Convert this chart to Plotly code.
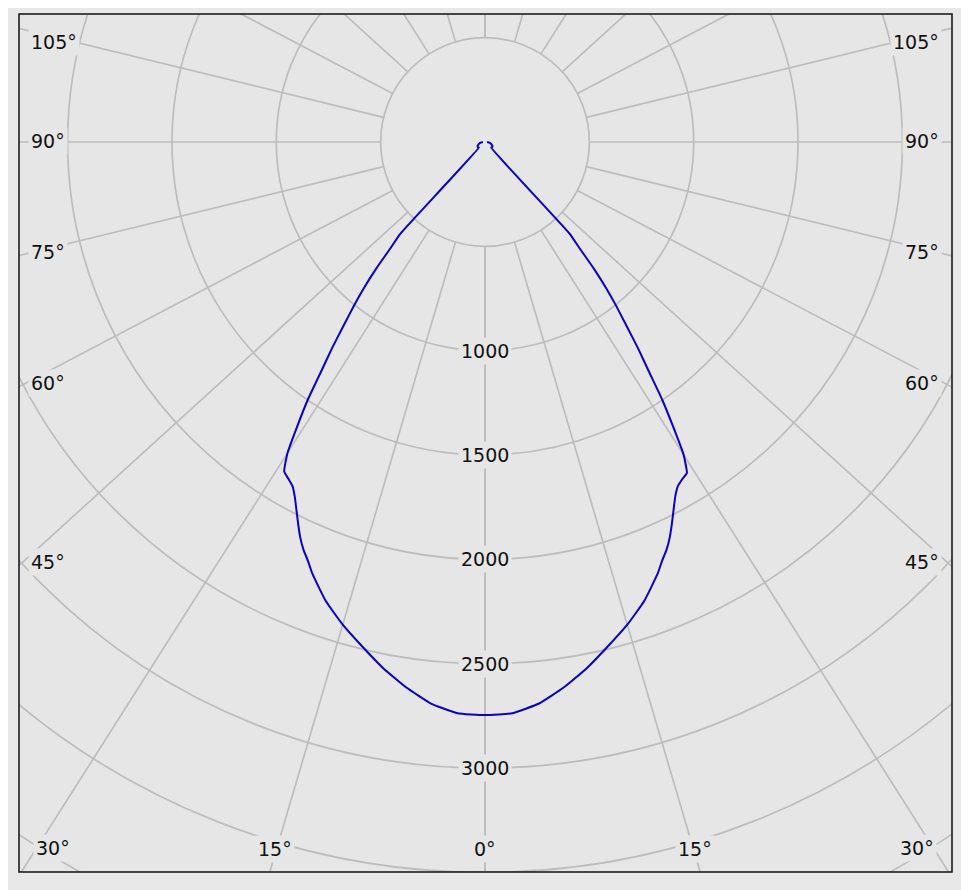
import numpy as np
import plotly.graph_objects as go

# ---------------- data ----------------
gamma_deg = [0, 2.5, 5, 7.5, 10, 12.5, 15, 17.5, 20, 21, 22, 23, 24, 25, 26, 27, 28, 29, 30,
             31, 32, 33, 34, 35, 36, 37, 38, 39, 40, 45, 50, 55, 60, 65, 70, 75, 80, 85, 90]
intensity_c0 = [2746, 2740, 2703, 2640, 2567, 2487, 2411, 2328, 2227, 2180, 2140, 2092, 2036, 1980,
                1928, 1888, 1868, 1848, 1765, 1630, 1500, 1350, 1230, 1110, 1010, 910, 800, 680, 600,
                40, 42, 42, 40, 36, 32, 27, 21, 15, 10]
intensity_c180 = [2746, 2740, 2703, 2640, 2567, 2487, 2411, 2328, 2227, 2180, 2140, 2092, 2036, 1980,
                  1928, 1890, 1872, 1858, 1775, 1635, 1500, 1350, 1230, 1110, 1010, 910, 800, 680, 600,
                  40, 42, 42, 40, 36, 32, 27, 21, 15, 10]

circle_radii = [500, 1000, 1500, 2000, 2500, 3000, 3500, 4000, 4500]
radial_tick_values = [1000, 1500, 2000, 2500, 3000]
ray_angles = [0, 15, 30, 45, 60, 75, 90, 105, 120, 135, 150, 165, 180]
angle_label_text = ["105°", "90°", "75°", "60°", "45°", "30°", "15°", "0°"]

# ---------------- styles / layout constants (screen pixels) ----------------
PAGE_OFFSET = 8              # browser body margin
W, H = 969 - PAGE_OFFSET, 890 - PAGE_OFFSET
PLOT_L, PLOT_R, PLOT_T, PLOT_B = 19, 952, 14, 872
CX, CY = 485, 142            # pole position in screen pixels
SCALE = 0.2087               # px per cd
RAY_STRETCH = 1.1            # angular stretch of the radial grid
BG = "#e6e6e6"
GRID = "#bdbdbd"
CURVE = "#0a00c8"
FONT = dict(family="DejaVu Sans", size=19, color="#111111")

# label anchor pixels (left side; right side mirrored)
angle_label_px = [(54, 42), (48, 141), (48, 252), (48, 383), (48, 562), (53, 848), (275, 849), (485, 849)]

x_range = [(PLOT_L - CX) / SCALE, (PLOT_R - CX) / SCALE]
y_range = [(CY - PLOT_B) / SCALE, (CY - PLOT_T) / SCALE]


def to_xy(theta_deg, r, side):
    th = np.radians(np.asarray(theta_deg, dtype=float))
    thp = np.arctan2(RAY_STRETCH * np.sin(th), np.cos(th))
    r = np.asarray(r, dtype=float)
    return side * r * np.sin(thp), -r * np.cos(thp)


fig = go.Figure()

# radial grid rays
rx, ry = [], []
for side in (-1, 1):
    for a in ray_angles:
        x, y = to_xy([a, a], [circle_radii[0], 8000], side)
        rx += list(x) + [None]
        ry += list(y) + [None]
fig.add_trace(go.Scatter(x=rx, y=ry, mode="lines", line=dict(color=GRID, width=1.7),
                         hoverinfo="skip", showlegend=False))

# intensity curve: left half (C0) from 90 down to 0, then right half (C180) from 0 to 90
xl, yl = to_xy(gamma_deg[::-1], intensity_c0[::-1], -1)
xr, yr = to_xy(gamma_deg, intensity_c180, 1)
fig.add_trace(go.Scatter(x=np.concatenate([xl, xr[1:]]), y=np.concatenate([yl, yr[1:]]),
                         mode="lines", line=dict(color=CURVE, width=2, shape="spline", smoothing=0.4),
                         showlegend=False))

shapes = []
for R in circle_radii:
    shapes.append(dict(type="circle", xref="x", yref="y", x0=-R, x1=R, y0=-R, y1=R,
                       line=dict(color=GRID, width=1.7), layer="below"))
shapes.append(dict(type="rect", xref="paper", yref="paper", x0=0, x1=1, y0=0, y1=1,
                   line=dict(color="#111111", width=1.5), layer="above"))

annotations = []
for v in radial_tick_values:
    annotations.append(dict(x=0, y=-v, xref="x", yref="y", text=str(v), showarrow=False,
                            font=FONT, bgcolor=BG, borderpad=2, xanchor="center", yanchor="middle"))
for txt, (px, py) in zip(angle_label_text, angle_label_px):
    for pxx in sorted({px, 2 * CX - px}):
        annotations.append(dict(x=(pxx - CX) / SCALE, y=(CY - py) / SCALE, xref="x", yref="y",
                                text=txt, showarrow=False, font=FONT, bgcolor=BG, borderpad=2,
                                xanchor="center", yanchor="middle"))

fig.update_layout(
    width=W, height=H,
    margin=dict(l=PLOT_L - PAGE_OFFSET, r=W - (PLOT_R - PAGE_OFFSET),
                t=PLOT_T - PAGE_OFFSET, b=H - (PLOT_B - PAGE_OFFSET), pad=0),
    paper_bgcolor="#e8e8e8", plot_bgcolor=BG,
    xaxis=dict(range=x_range, visible=False, fixedrange=True),
    yaxis=dict(range=y_range, visible=False, fixedrange=True),
    shapes=shapes, annotations=annotations, showlegend=False,
)

fig.write_html("out.html")
